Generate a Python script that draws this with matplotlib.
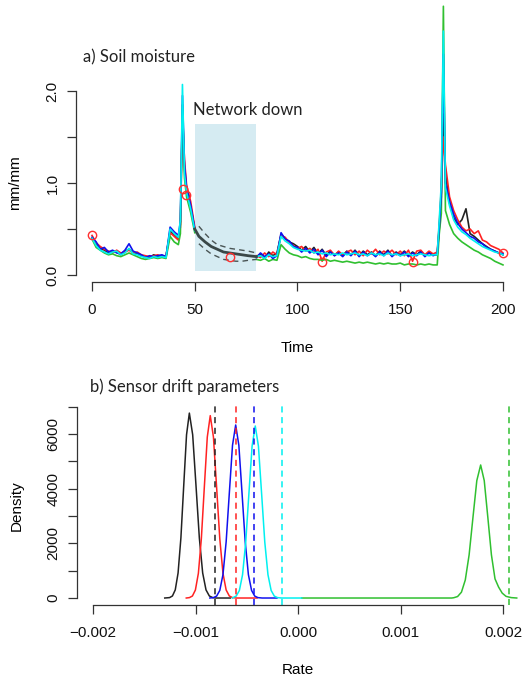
import matplotlib
matplotlib.use("Agg")
import matplotlib.pyplot as plt
import numpy as np

plt.rcParams['font.family'] = ['Liberation Sans', 'DejaVu Sans']

# ---- a) soil moisture, before the outage ----
tA = [0, 2, 4, 6, 8, 10, 12, 14, 16, 18, 20, 22, 24, 26, 28, 30, 32, 34, 36, 38,
      40, 42, 43, 44, 45, 46, 48, 50]
blackA = [0.40, 0.34, 0.29, 0.27, 0.24, 0.26, 0.25, 0.22, 0.26, 0.28, 0.25, 0.23, 0.21, 0.20,
          0.19, 0.22, 0.20, 0.21, 0.20, 0.48, 0.44, 0.40, 0.55, 1.85, 1.15, 0.92, 0.74, 0.50]
redA = [0.43, 0.35, 0.31, 0.28, 0.26, 0.24, 0.27, 0.24, 0.25, 0.27, 0.24, 0.25, 0.22, 0.21,
        0.20, 0.21, 0.22, 0.20, 0.21, 0.46, 0.42, 0.38, 0.52, 1.75, 1.25, 0.98, 0.80, 0.52]
greenA = [0.39, 0.30, 0.27, 0.24, 0.22, 0.23, 0.21, 0.20, 0.22, 0.24, 0.22, 0.20, 0.18, 0.17,
          0.18, 0.19, 0.18, 0.19, 0.18, 0.42, 0.36, 0.33, 0.45, 1.80, 1.05, 0.85, 0.68, 0.46]
blueA = [0.41, 0.36, 0.28, 0.30, 0.25, 0.27, 0.24, 0.23, 0.27, 0.34, 0.26, 0.24, 0.22, 0.19,
         0.21, 0.20, 0.21, 0.22, 0.20, 0.52, 0.47, 0.43, 0.58, 1.95, 1.20, 0.95, 0.76, 0.50]
cyanA = [0.40, 0.32, 0.27, 0.25, 0.23, 0.25, 0.26, 0.22, 0.24, 0.29, 0.23, 0.22, 0.20, 0.19,
         0.18, 0.20, 0.19, 0.20, 0.19, 0.50, 0.45, 0.41, 0.60, 2.07, 1.10, 0.90, 0.72, 0.48]

# ---- after the outage ----
tB = [80, 82, 84, 86, 88, 90, 92, 94, 96, 98,
      100, 102, 104, 106, 108, 110, 112, 114, 116, 118,
      120, 122, 124, 126, 128, 130, 132, 134, 136, 138,
      140, 142, 144, 146, 148, 150, 152, 154, 156, 158,
      160, 162, 164, 166, 168,
      169, 170, 171, 172,
      174, 176, 178, 180, 182, 184, 186, 188, 190, 192, 194, 196, 198, 200]
blackB = [0.20, 0.23, 0.18, 0.25, 0.21, 0.24, 0.44, 0.40, 0.36, 0.34,
          0.31, 0.27, 0.31, 0.25, 0.30, 0.23, 0.28, 0.21, 0.26, 0.22,
          0.25, 0.21, 0.26, 0.22, 0.27, 0.21, 0.26, 0.22, 0.25, 0.21,
          0.26, 0.22, 0.27, 0.21, 0.25, 0.22, 0.26, 0.21, 0.25, 0.22,
          0.26, 0.21, 0.25, 0.22, 0.22,
          0.50, 0.85, 1.75, 1.10,
          0.78, 0.62, 0.55, 0.60, 0.72, 0.45, 0.42, 0.38, 0.34, 0.31, 0.28, 0.26, 0.24, 0.22]
redB = [0.21, 0.19, 0.24, 0.20, 0.25, 0.22, 0.43, 0.41, 0.35, 0.32,
        0.29, 0.31, 0.26, 0.29, 0.24, 0.28, 0.15, 0.25, 0.27, 0.21,
        0.26, 0.22, 0.25, 0.27, 0.22, 0.26, 0.21, 0.27, 0.23, 0.28,
        0.22, 0.26, 0.23, 0.27, 0.22, 0.26, 0.21, 0.27, 0.15, 0.26,
        0.27, 0.22, 0.26, 0.23, 0.25,
        0.55, 0.95, 1.50, 1.20,
        0.85, 0.70, 0.60, 0.52, 0.48, 0.50, 0.45, 0.48, 0.38, 0.36, 0.32, 0.30, 0.28, 0.24]
greenB = [0.17, 0.16, 0.18, 0.15, 0.17, 0.16, 0.33, 0.28, 0.24, 0.22,
          0.21, 0.19, 0.20, 0.18, 0.17, 0.17, 0.16, 0.17, 0.15, 0.16,
          0.15, 0.14, 0.15, 0.14, 0.13, 0.14, 0.13, 0.14, 0.13, 0.12,
          0.13, 0.12, 0.13, 0.12, 0.12, 0.13, 0.11, 0.12, 0.12, 0.11,
          0.12, 0.11, 0.12, 0.11, 0.11,
          0.45, 0.67, 2.92, 0.70,
          0.55, 0.45, 0.40, 0.36, 0.33, 0.30, 0.27, 0.25, 0.22, 0.20, 0.18, 0.15, 0.13, 0.11]
blueB = [0.19, 0.24, 0.20, 0.23, 0.18, 0.21, 0.46, 0.39, 0.37, 0.31,
         0.30, 0.25, 0.29, 0.24, 0.28, 0.22, 0.27, 0.20, 0.25, 0.21,
         0.24, 0.20, 0.25, 0.21, 0.26, 0.20, 0.25, 0.21, 0.24, 0.20,
         0.25, 0.21, 0.26, 0.20, 0.24, 0.21, 0.25, 0.20, 0.24, 0.21,
         0.25, 0.20, 0.24, 0.21, 0.23,
         0.52, 0.90, 2.40, 1.00,
         0.80, 0.66, 0.56, 0.50, 0.46, 0.42, 0.40, 0.36, 0.34, 0.30, 0.28, 0.26, 0.24, 0.23]
cyanB = [0.20, 0.21, 0.18, 0.22, 0.20, 0.21, 0.42, 0.37, 0.34, 0.30,
         0.28, 0.27, 0.26, 0.27, 0.24, 0.25, 0.23, 0.24, 0.22, 0.23,
         0.22, 0.24, 0.22, 0.23, 0.24, 0.22, 0.23, 0.21, 0.24, 0.22,
         0.23, 0.21, 0.24, 0.22, 0.23, 0.21, 0.22, 0.23, 0.21, 0.22,
         0.23, 0.22, 0.21, 0.22, 0.22,
         0.60, 1.00, 2.65, 0.95,
         0.75, 0.60, 0.52, 0.47, 0.44, 0.40, 0.37, 0.34, 0.31, 0.29, 0.27, 0.25, 0.24, 0.22]

# forecast through the outage
tGap = [50, 52, 55, 58, 61, 64, 67, 70, 73, 76, 80]
gapMean = [0.50, 0.42, 0.36, 0.31, 0.28, 0.25, 0.24, 0.23, 0.22, 0.21, 0.20]
gapUpper = [0.58, 0.53, 0.45, 0.38, 0.33, 0.31, 0.29, 0.28, 0.27, 0.26, 0.24]
gapLower = [0.42, 0.34, 0.28, 0.23, 0.20, 0.17, 0.16, 0.15, 0.15, 0.16, 0.17]
outage = (50, 80)

# manual readings
obsT = [0, 44.5, 45.5, 67, 112, 156, 200]
obsY = [0.43, 0.93, 0.87, 0.20, 0.14, 0.14, 0.24]

# ---- b) posterior densities of drift rate (x in units of 1e-3) ----
blackX = [-1.30, -1.2525, -1.225, -1.1975, -1.17, -1.1425, -1.115, -1.0875, -1.06,
          -1.0275, -0.995, -0.9625, -0.93, -0.8975, -0.865, -0.8325, -0.80, -0.66]
blackD = [0, 15, 75, 297, 915, 2195, 4100, 5966, 6760,
          5966, 4100, 2195, 915, 297, 75, 15, 0, 0]
redX = [-1.09, -1.059, -1.03, -1.001, -0.972, -0.943, -0.914, -0.885, -0.856,
        -0.825, -0.794, -0.763, -0.732, -0.701, -0.67, -0.639, -0.60, -0.40]
redD = [0, 15, 74, 293, 902, 2165, 4044, 5884, 6667,
        5884, 4044, 2165, 902, 293, 74, 15, 0, 0]
blueX = [-0.86, -0.825, -0.794, -0.763, -0.732, -0.701, -0.67, -0.639, -0.608,
         -0.577, -0.546, -0.515, -0.484, -0.453, -0.422, -0.391, -0.35, -0.205]
blueD = [0, 14, 70, 278, 856, 2054, 3836, 5582, 6325,
         5582, 3836, 2054, 856, 278, 70, 14, 0, 0]
cyanX = [-0.64, -0.634, -0.603, -0.572, -0.541, -0.51, -0.479, -0.448, -0.417,
         -0.386, -0.355, -0.324, -0.293, -0.262, -0.231, -0.20, -0.16, 0.036]
cyanD = [0, 14, 70, 276, 851, 2042, 3814, 5550, 6289,
         5550, 3814, 2042, 851, 276, 70, 14, 0, 0]
greenX = [0.036, 1.50, 1.52, 1.557, 1.5945, 1.632, 1.6695, 1.707, 1.7445, 1.782,
          1.817, 1.852, 1.887, 1.922, 1.957, 1.992, 2.03, 2.08, 2.134]
greenD = [0, 0, 11, 54, 213, 658, 1579, 2949, 4292, 4863,
          4292, 2949, 1579, 700, 400, 180, 60, 15, 0]
trueRate = {'black': -0.81, 'red': -0.605, 'blue': -0.432, 'cyan': -0.153, 'green': 2.062}

cols = {'black': '#222222', 'red': '#ff2222', 'green': '#30c030',
        'blue': '#1010ee', 'cyan': '#00f0f0'}

fig = plt.figure(figsize=(5.24, 6.83), dpi=100)
W, H = 524, 683
axA = fig.add_axes([75.6 / W, (H - 282.4) / H, 443.8 / W, 198.8 / H])
axB = fig.add_axes([76.6 / W, (H - 605.4) / H, 442.8 / W, 199.7 / H])

# panel a
axA.add_patch(plt.Rectangle((outage[0], 0.04), outage[1] - outage[0], 1.60,
                            facecolor='#d5ebf2', edgecolor='none', zorder=0))
for name, a, b in [('black', blackA, blackB), ('red', redA, redB), ('green', greenA, greenB),
                   ('blue', blueA, blueB), ('cyan', cyanA, cyanB)]:
    axA.plot(np.r_[tA, np.nan, tB], np.r_[a, np.nan, b], color=cols[name],
             lw=1.2, clip_on=False)
axA.plot(tGap, gapMean, color='#3a4848', lw=2.0)
axA.plot(tGap[1:], gapUpper[1:], color='#4a5555', lw=1.0, ls=(0, (4, 3)))
axA.plot(tGap[1:], gapLower[1:], color='#4a5555', lw=1.0, ls=(0, (4, 3)))
axA.plot(obsT, obsY, 'o', mfc='none', mec='#ff3030', ms=6, mew=1.0, clip_on=False)
axA.text(49, 1.79, 'Network down', family='Lato', fontsize=12, va='center', color='#222222')

axA.set_xlim(-8, 208)
axA.set_ylim(-0.08, 2.08)
axA.set_xticks([0, 50, 100, 150, 200])
axA.set_yticks([0, 0.5, 1.0, 1.5, 2.0], labels=['0.0', '', '1.0', '', '2.0'])
axA.spines['bottom'].set_bounds(0, 200)
axA.spines['left'].set_bounds(0, 2.0)
axA.set_xlabel('Time', fontsize=11)
axA.set_ylabel('mm/mm', fontsize=11)

# panel b
for x, d, name in [(blackX, blackD, 'black'), (redX, redD, 'red'), (greenX, greenD, 'green'),
                   (blueX, blueD, 'blue'), (cyanX, cyanD, 'cyan')]:
    axB.plot(np.array(x) * 1e-3, d, color=cols[name], lw=1.1)
for name, v in trueRate.items():
    axB.axvline(v * 1e-3, color=cols[name], lw=1.1, ls=(0, (4, 3)))

axB.set_xlim(-0.00216, 0.00216)
axB.set_ylim(-270, 7030)
axB.set_xticks([-0.002, -0.001, 0, 0.001, 0.002],
               labels=['\u22120.002', '\u22120.001', '0.000', '0.001', '0.002'])
axB.set_yticks(range(0, 8000, 1000),
               labels=['0', '', '2000', '', '4000', '', '6000', ''])
axB.spines['bottom'].set_bounds(-0.002, 0.002)
axB.spines['left'].set_bounds(0, 7000)
axB.set_xlabel('Rate', fontsize=11)
axB.set_ylabel('Density', fontsize=11)

for ax in (axA, axB):
    for s in ('top', 'right'):
        ax.spines[s].set_visible(False)
    for s in ('left', 'bottom'):
        ax.spines[s].set_color('#333333')
        ax.spines[s].set_linewidth(0.9)
    ax.tick_params(direction='out', length=6.5, width=0.9, color='#333333',
                   labelsize=11, labelcolor='#111111')
    ax.tick_params(axis='x', pad=8)
    ax.tick_params(axis='y', pad=5, labelrotation=90)
    for lab in ax.get_yticklabels():
        lab.set_va('center')
    ax.yaxis.label.set_va('center')
    ax.xaxis.label.set_va('center')
    ax.yaxis.set_label_coords(-0.136, 0.5)

axA.xaxis.set_label_coords(0.5, -0.331)
axB.xaxis.set_label_coords(0.5, -0.3235)

fig.text(82.7 / W, (H - 57) / H, 'a) Soil moisture', family='Lato', fontsize=12,
         va='center', color='#222222')
fig.text(90 / W, (H - 386.7) / H, 'b) Sensor drift parameters', family='Lato', fontsize=12,
         va='center', color='#222222')

fig.savefig('out.png', dpi=100)
